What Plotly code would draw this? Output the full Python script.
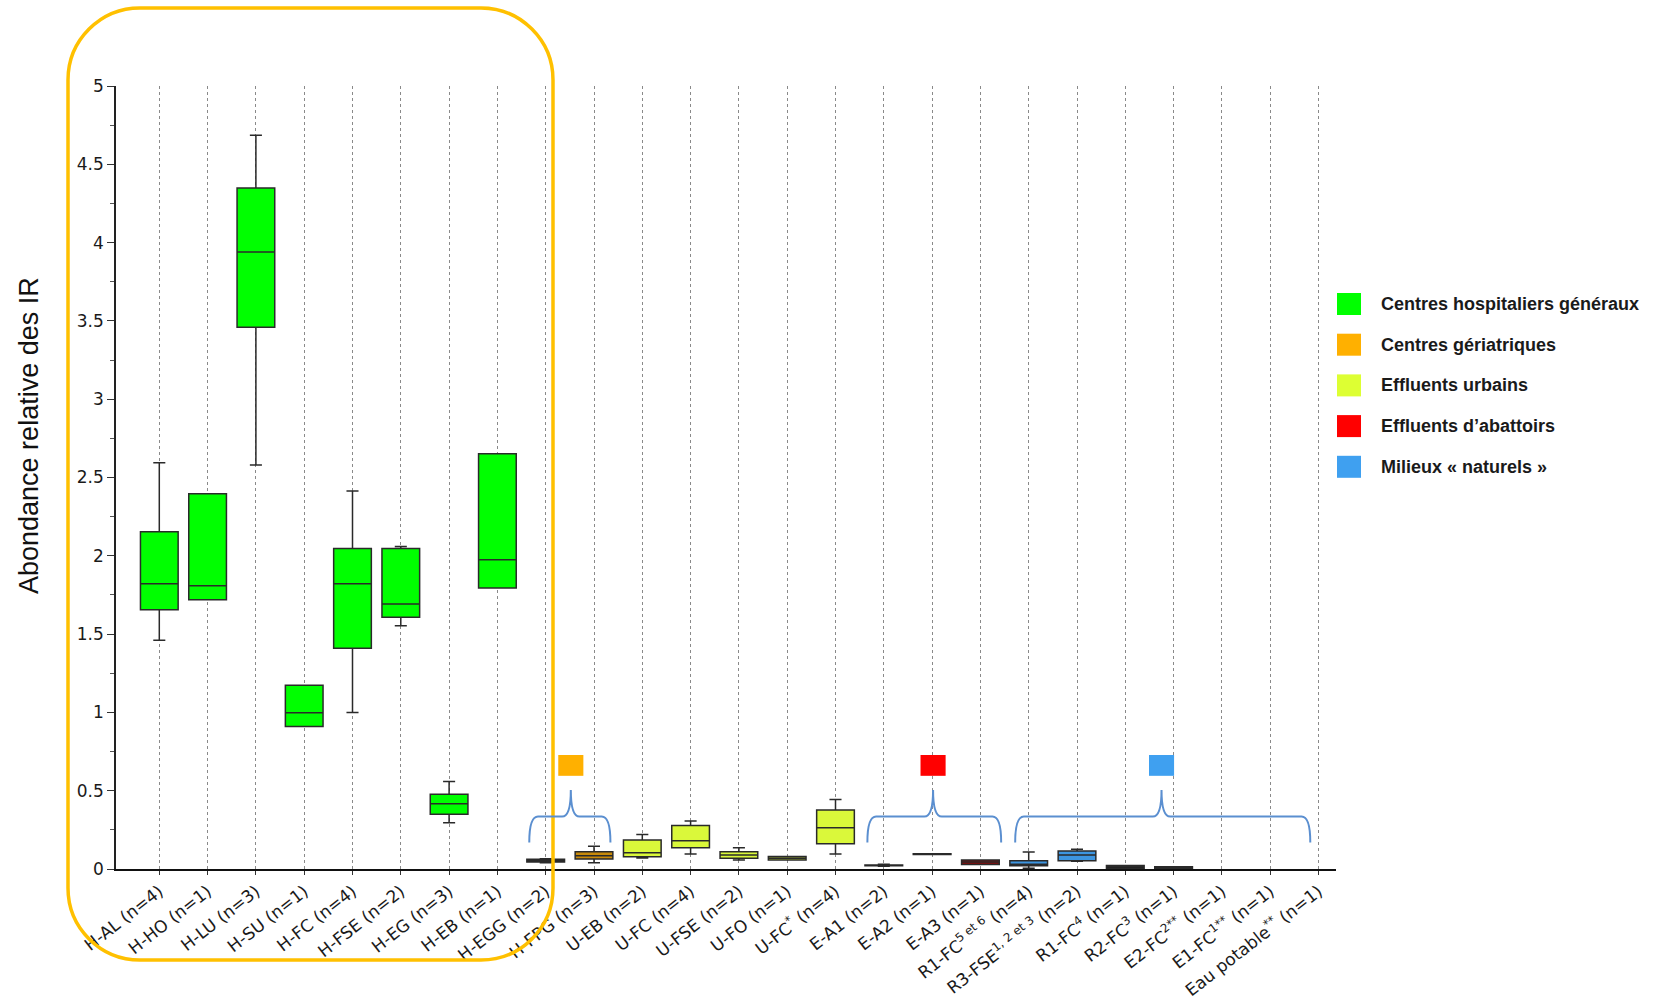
import plotly.graph_objects as go

# ---------------- data ----------------
categories = [
    "H-AL (n=4)", "H-HO (n=1)", "H-LU (n=3)", "H-SU (n=1)", "H-FC (n=4)",
    "H-FSE (n=2)", "H-EG (n=3)", "H-EB (n=1)", "H-EGG (n=2)", "H-FPG (n=3)",
    "U-EB (n=2)", "U-FC (n=4)", "U-FSE (n=2)", "U-FO (n=1)", "U-FC<sup>*</sup> (n=4)",
    "E-A1 (n=2)", "E-A2 (n=1)", "E-A3 (n=1)", "R1-FC<sup>5 et 6</sup> (n=4)",
    "R3-FSE<sup>1, 2 et 3</sup> (n=2)", "R1-FC<sup>4</sup> (n=1)", "R2-FC<sup>3</sup> (n=1)",
    "E2-FC<sup>2**</sup> (n=1)", "E1-FC<sup>1**</sup> (n=1)", "Eau potable<sup>**</sup> (n=1)",
]
lower_whisker = [1.46, 1.72, 2.58, 0.91, 1.00, 1.553, 0.296, 1.794, 0.040, 0.040,
                 0.070, 0.096, 0.058, 0.057, 0.095, 0.018, 0.093, 0.028, 0.005,
                 0.050, 0.002, 0.002, None, None, None]
q1_vals = [1.655, 1.72, 3.46, 0.91, 1.41, 1.608, 0.35, 1.794, 0.045, 0.064,
           0.078, 0.136, 0.068, 0.057, 0.161, 0.020, 0.093, 0.028, 0.020,
           0.053, 0.002, 0.002, None, None, None]
median_vals = [1.821, 1.808, 3.94, 0.997, 1.821, 1.693, 0.417, 1.974, 0.053, 0.085,
               0.104, 0.180, 0.090, 0.068, 0.263, 0.022, 0.095, 0.045, 0.030,
               0.089, 0.012, 0.008, None, None, None]
q3_vals = [2.153, 2.396, 4.348, 1.173, 2.047, 2.047, 0.478, 2.652, 0.062, 0.110,
           0.185, 0.278, 0.110, 0.080, 0.376, 0.025, 0.097, 0.057, 0.053,
           0.115, 0.023, 0.014, None, None, None]
upper_whisker = [2.594, 2.396, 4.686, 1.173, 2.413, 2.06, 0.559, 2.652, 0.066, 0.146,
                 0.220, 0.306, 0.136, 0.080, 0.444, 0.030, 0.097, 0.057, 0.108,
                 0.126, 0.023, 0.014, None, None, None]
box_fill = ["#00FF00"] * 8 + ["#111111", "#C88A0A"] + ["#DAF83A"] * 5 + \
           ["#F4F4F4", "#111111", "#8B0A0A", "#3D95E0", "#3D95E0", "#111111", "#111111",
            "#3D95E0", "#3D95E0", "#3D95E0"]

legend_labels = ["Centres hospitaliers généraux", "Centres gériatriques",
                 "Effluents urbains", "Effluents d\u2019abattoirs",
                 "Milieux \u00ab naturels \u00bb"]
legend_colors = ["#00FF00", "#FFB000", "#DDFF33", "#FF0000", "#3FA0F0"]

# group braces (category index spans) and their marker colours
brace_groups = [(7.66, 8.52, 9.34), (14.66, 16.02, 17.43), (17.72, 20.75, 23.83)]
brace_colors = ["#FFB000", "#FF0000", "#3FA0F0"]

y_title = "Abondance relative des IR"

# ---------------- layout geometry ----------------
W, H = 1656, 1002
ML, MR, MT, MB = 116, 320, 86, 133
PW, PH = W - ML - MR, H - MT - MB


def px_to_paper(px, py):
    return (px - ML) / PW, (H - MB - py) / PH


fig = go.Figure()

for i, cat in enumerate(categories):
    if q1_vals[i] is None:
        continue
    fig.add_trace(go.Box(
        x=[cat], q1=[q1_vals[i]], median=[median_vals[i]], q3=[q3_vals[i]],
        lowerfence=[lower_whisker[i]], upperfence=[upper_whisker[i]],
        fillcolor=box_fill[i], line=dict(color="#2a2a2a", width=1.5),
        width=0.78, whiskerwidth=0.32, showlegend=False, hoverinfo="y",
    ))

# invisible trace to keep empty categories on the axis
fig.add_trace(go.Scatter(x=categories, y=[None] * len(categories), mode="markers",
                         showlegend=False, hoverinfo="skip"))

shapes = []
annotations = []

# rounded orange frame (decoration, in pixel -> paper)
def rounded_rect(px0, py0, px1, py1, r):
    x0, yt = px_to_paper(px0, py0)
    x1, yb = px_to_paper(px1, py1)
    rx, ry = r / PW, r / PH
    k = 0.5523
    p = f"M {x0+rx},{yt} L {x1-rx},{yt} "
    p += f"C {x1-rx+k*rx},{yt} {x1},{yt-ry+k*ry} {x1},{yt-ry} "
    p += f"L {x1},{yb+ry} C {x1},{yb+ry-k*ry} {x1-rx+k*rx},{yb} {x1-rx},{yb} "
    p += f"L {x0+rx},{yb} C {x0+rx-k*rx},{yb} {x0},{yb+ry-k*ry} {x0},{yb+ry} "
    p += f"L {x0},{yt-ry} C {x0},{yt-ry+k*ry} {x0+rx-k*rx},{yt} {x0+rx},{yt} Z"
    return p

shapes.append(dict(type="path", xref="paper", yref="paper",
                   path=rounded_rect(68, 8, 553, 960, 72),
                   line=dict(color="#FFC000", width=3.5), layer="above"))

# curly braces + coloured squares
y_end, y_mid, y_top = 0.17, 0.335, 0.505
for (xs, xp, xe), col in zip(brace_groups, brace_colors):
    d = 0.18
    path = (f"M {xs},{y_end} Q {xs},{y_mid} {xs+d},{y_mid} L {xp-d},{y_mid} "
            f"Q {xp},{y_mid} {xp},{y_top} Q {xp},{y_mid} {xp+d},{y_mid} "
            f"L {xe-d},{y_mid} Q {xe},{y_mid} {xe},{y_end}")
    shapes.append(dict(type="path", xref="x", yref="y", path=path,
                       line=dict(color="#5B8FD0", width=2)))
    shapes.append(dict(type="rect", xref="x", yref="y", x0=xp - 0.26, x1=xp + 0.26,
                       y0=0.595, y1=0.728, fillcolor=col, line=dict(width=0)))

# legend (squares + text)
for j, (lab, col) in enumerate(zip(legend_labels, legend_colors)):
    cy = 304 + j * 40.7
    xa, ya0 = px_to_paper(1337, cy + 11)
    xb, ya1 = px_to_paper(1361, cy - 11)
    shapes.append(dict(type="rect", xref="paper", yref="paper", x0=xa, x1=xb,
                       y0=ya0, y1=ya1, fillcolor=col, line=dict(width=0)))
    tx, ty = px_to_paper(1379, cy)
    annotations.append(dict(xref="paper", yref="paper", x=tx, y=ty, text=lab,
                            showarrow=False, xanchor="left", yanchor="middle",
                            font=dict(family="Liberation Sans, Arial", size=18,
                                      color="#1a1a1a", weight="bold")))

# y-axis title
tx, ty = px_to_paper(29, 436)
annotations.append(dict(xref="paper", yref="paper", x=tx, y=ty, text=y_title,
                        textangle=-90, showarrow=False, xanchor="center",
                        yanchor="middle",
                        font=dict(family="Liberation Sans, Arial", size=27,
                                  color="#111111")))

xr0 = -(159.3 - ML) / 48.3
xr1 = (W - MR - 159.3) / 48.3

fig.update_layout(
    width=W, height=H,
    margin=dict(l=ML, r=MR, t=MT, b=MB, autoexpand=False),
    paper_bgcolor="white", plot_bgcolor="white",
    shapes=shapes, annotations=annotations,
    boxmode="overlay",
    xaxis=dict(
        type="category", categoryorder="array", categoryarray=categories,
        range=[xr0, xr1], showgrid=True, gridcolor="#8a8a8a", griddash="dot",
        gridwidth=1.2, showline=True, linecolor="#111111", linewidth=2,
        ticks="outside", ticklen=4, tickcolor="#333", tickangle=-38,
        tickfont=dict(family="DejaVu Sans", size=17, color="#1a1a1a"),
        automargin=False, zeroline=False,
    ),
    yaxis=dict(
        range=[0, 5], dtick=0.5, tick0=0, showgrid=False, zeroline=False,
        showline=True, linecolor="#222222", linewidth=1.5,
        ticks="outside", ticklen=7, tickcolor="#333",
        minor=dict(dtick=0.25, ticks="outside", ticklen=4, tickcolor="#555"),
        tickfont=dict(family="DejaVu Sans", size=17, color="#1a1a1a"),
        automargin=False,
    ),
    font=dict(family="Liberation Sans, Arial"),
)

fig.write_html("out.html")
